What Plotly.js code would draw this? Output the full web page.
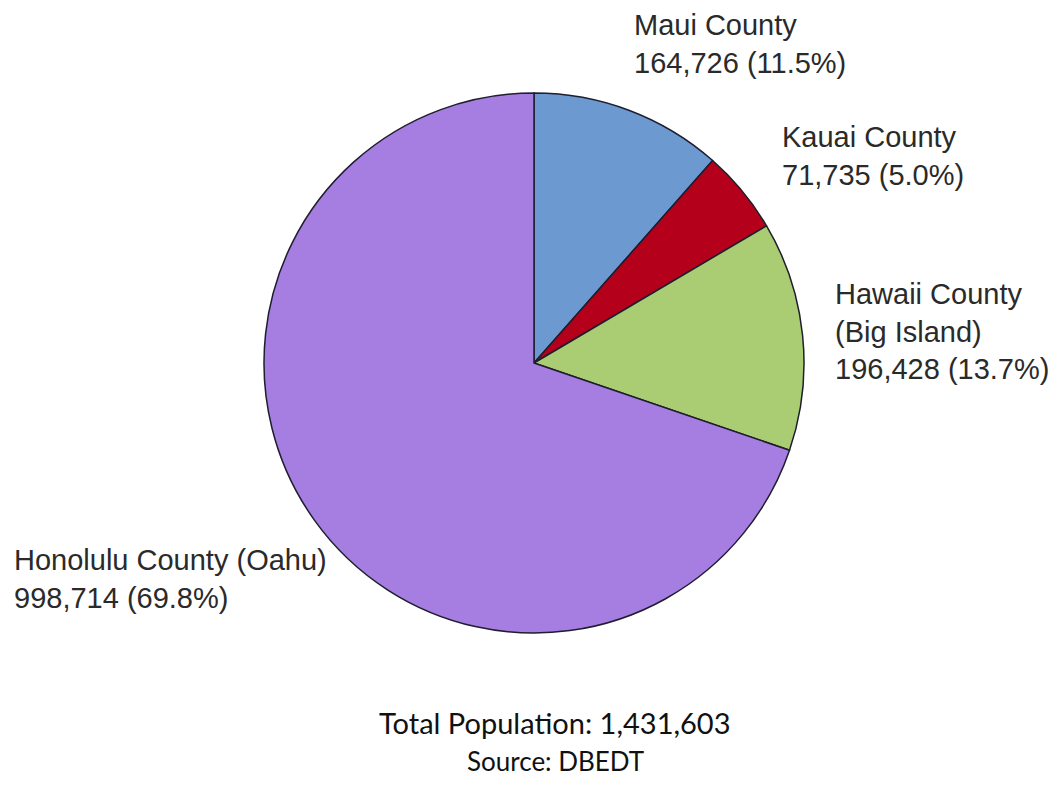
<!DOCTYPE html>
<html>
<head>
<meta charset="utf-8">
<script src="https://cdn.plot.ly/plotly-3.0.1.min.js"></script>
<style>html,body{margin:0;padding:0;background:#fff;}#chart{width:1060px;height:785px;}</style>
</head>
<body>
<div id="chart"></div>
<script>
const counties = ["Maui County", "Kauai County", "Hawaii County<br>(Big Island)", "Honolulu County (Oahu)"];
const populations = [164726, 71735, 196428, 998714];
const percents = ["11.5%", "5.0%", "13.7%", "69.8%"];
const sliceColors = ["#6c9ad0", "#b4001a", "#aacd73", "#a67de0"];
const totalLabel = "Total Population: 1,431,603";
const sourceLabel = "Source: DBEDT";

// label anchor positions (pixels, left edge / vertical middle)
const labelPos = [[632, 44], [780, 156], [833, 331], [12, 579]];

const W = 1060, H = 785;
const fmt = n => n.toLocaleString("en-US");

const annotations = counties.map((c, i) => ({
  text: c + "<br>" + fmt(populations[i]) + " (" + percents[i] + ")",
  xref: "paper", yref: "paper",
  x: labelPos[i][0] / W, y: 1 - labelPos[i][1] / H,
  xanchor: "left", yanchor: "middle", align: "left",
  showarrow: false,
  font: {family: "Arial", size: 29, color: "#2a2a2a"}
}));
annotations.push({
  text: totalLabel, xref: "paper", yref: "paper",
  x: 555 / W, y: 1 - 722 / H, xanchor: "center", yanchor: "middle",
  showarrow: false, font: {family: "Lato", size: 29, color: "#111"}
});
annotations.push({
  text: sourceLabel, xref: "paper", yref: "paper",
  x: 555 / W, y: 1 - 761 / H, xanchor: "center", yanchor: "middle",
  showarrow: false, font: {family: "Lato", size: 26, color: "#111"}
});

const data = [{
  type: "pie",
  labels: counties,
  values: populations,
  sort: false,
  direction: "clockwise",
  rotation: 0,
  textinfo: "none",
  hoverinfo: "label+value+percent",
  marker: {colors: sliceColors, line: {color: "#1e1e2e", width: 1.5}},
  domain: {x: [264 / W, 804 / W], y: [1 - 633 / H, 1 - 93 / H]},
  showlegend: false
}];

const layout = {
  width: W, height: H,
  margin: {l: 0, r: 0, t: 0, b: 0},
  paper_bgcolor: "#fff",
  showlegend: false,
  annotations: annotations
};

Plotly.newPlot("chart", data, layout, {displayModeBar: false, staticPlot: true});
</script>
</body>
</html>
